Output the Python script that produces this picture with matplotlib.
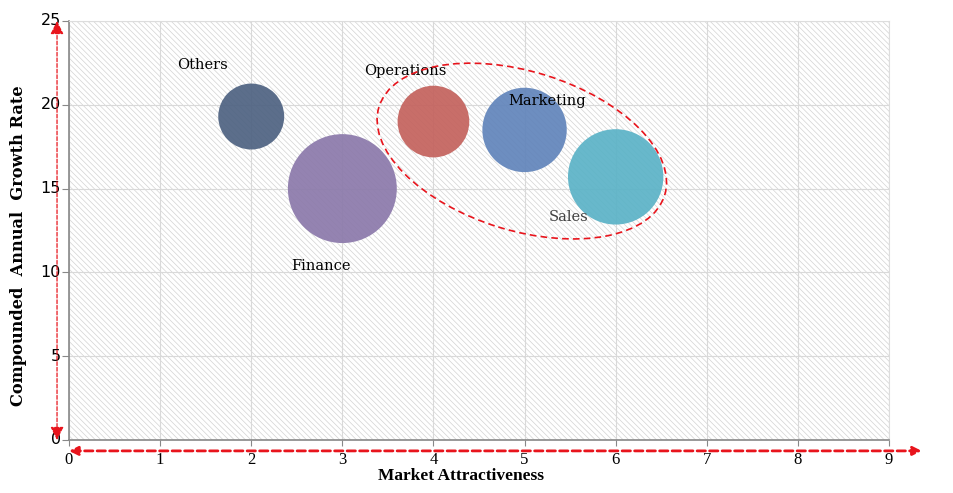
import numpy as np
import matplotlib.pyplot as plt
from matplotlib.patches import Ellipse, Rectangle
from matplotlib.transforms import ScaledTranslation

# bubble chart data
segments = ["Others", "Finance", "Operations", "Marketing", "Sales"]
attractiveness = [2, 3, 4, 5, 6]
cagr = [19.3, 15.0, 19.0, 18.5, 15.7]
bubble_size = [1.1, 3.0, 1.3, 1.8, 2.3]
colors = ["#4f6382", "#8c7aab", "#c4635e", "#6285bb", "#5cb3c7"]

x_ticks = list(range(0, 10))
y_ticks = [0, 5, 10, 15, 20, 25]

plt.rcParams["hatch.linewidth"] = 0.5

fig = plt.figure(figsize=(9.54, 4.93), dpi=100)
ax = fig.add_axes([69/954, 1 - 440/493, 820/954, 419/493])
ax.set_xlim(0, 9)
ax.set_ylim(0, 25)

# hatched background
bg = Rectangle((0, 0), 1, 1, transform=ax.transAxes, facecolor="white",
               edgecolor="#d3d3d3", hatch="\\\\\\\\\\\\", linewidth=0, zorder=0)
ax.add_patch(bg)

ax.grid(True, color="#d9d9d9", linewidth=0.8, zorder=1)
ax.set_axisbelow(True)

# bubbles (s in pt^2 from the size values)
s = [v * 2050 for v in bubble_size]
ax.scatter(attractiveness, cagr, s=s, c=colors, alpha=0.93, edgecolors="none", zorder=3)

# labels
label_pos = {"Others": (1.47, 22.4), "Finance": (2.77, 10.4), "Operations": (3.69, 22.0),
             "Marketing": (5.25, 20.2), "Sales": (5.48, 13.3)}
for name in segments:
    lx, ly = label_pos[name]
    ax.text(lx, ly, name, ha="center", va="center", fontsize=10.5,
            family="DejaVu Serif", color="#404040" if name == "Sales" else "black", zorder=4)

# dashed ellipse around the group
tr = fig.dpi_scale_trans + ScaledTranslation(4.97, 17.24, ax.transData)
ell = Ellipse((0, 0), 2.99, 1.59, angle=-17.2, transform=tr, fill=False,
              edgecolor="#e8141c", linestyle=(0, (4, 2.5)), linewidth=1.2, zorder=5)
ax.add_artist(ell)

# ticks and spines
ax.set_xticks(x_ticks)
ax.set_yticks(y_ticks)
ax.set_xticklabels([str(v) for v in x_ticks], family="Liberation Serif", fontsize=12)
ax.set_yticklabels([str(v) for v in y_ticks], family="DejaVu Sans", fontsize=11.5)
ax.tick_params(axis="x", length=4, color="#888888", pad=5)
ax.tick_params(axis="y", length=5, color="#888888", pad=1)
for lbl in ax.get_yticklabels():
    lbl.set_verticalalignment("center")
for side in ["left", "bottom"]:
    ax.spines[side].set_color("#888888")
    ax.spines[side].set_linewidth(1.2)
for side in ["top", "right"]:
    ax.spines[side].set_color("#dddddd")
    ax.spines[side].set_linewidth(0.8)

ax.set_xlabel("Market Attractiveness", family="Liberation Serif", fontweight="bold",
              fontsize=12.5)
ax.xaxis.set_label_coords(0.478, -0.068)
ax.set_ylabel("Compounded  Annual  Growth Rate", family="DejaVu Serif", fontweight="bold",
              fontsize=11.7)
ax.yaxis.set_label_coords(-0.051, 0.463)

# red dashed arrows along the axes
ax.annotate("", xy=(1.04, -0.026), xytext=(0.0, -0.026), xycoords="axes fraction",
            textcoords="axes fraction",
            arrowprops=dict(arrowstyle="<|-|>", color="#e8141c", lw=2, linestyle=(0, (3, 1.5)),
                            mutation_scale=13, shrinkA=0, shrinkB=0))
ax.annotate("", xy=(-0.0146, 1.0), xytext=(-0.0146, 0.0), xycoords="axes fraction",
            textcoords="axes fraction",
            arrowprops=dict(arrowstyle="<|-|>", color="#e8141c", lw=0.9, linestyle=(0, (3, 1.5)),
                            mutation_scale=20, shrinkA=0, shrinkB=0))

fig.savefig("out.png", dpi=100)
